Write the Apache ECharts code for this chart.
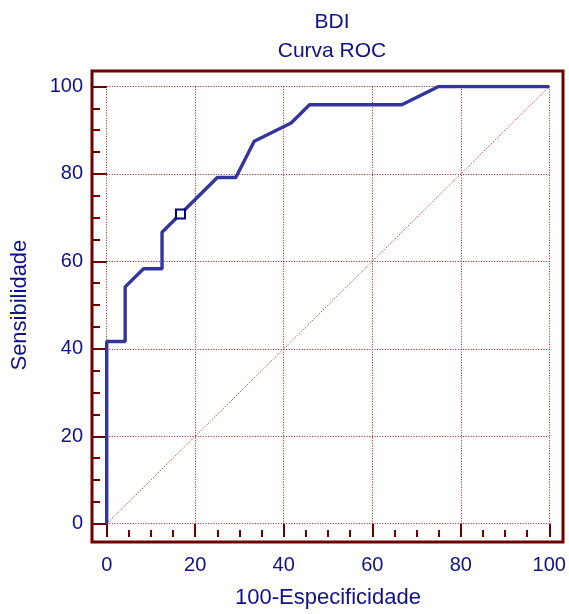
<!DOCTYPE html>
<html>
<head>
<meta charset="utf-8">
<script src="https://cdn.jsdelivr.net/npm/echarts@6/dist/echarts.min.js"></script>
<style>html,body{margin:0;padding:0;background:#fff}#c{width:569px;height:614px}</style>
</head>
<body>
<div id="c"></div>
<script>
// ROC curve data (100-Specificity, Sensitivity)
var fpr = [0, 0, 4.17, 4.17, 8.33, 12.5, 12.5, 16.67, 25, 29.17, 33.33, 41.67, 45.83, 66.67, 75, 100];
var tpr = [0, 41.67, 41.67, 54.17, 58.33, 58.33, 66.67, 70.83, 79.17, 79.17, 87.5, 91.67, 95.83, 95.83, 100, 100];
// Reference diagonal
var diagX = [0, 100];
var diagY = [0, 100];
// Optimal criterion point
var critX = [16.67];
var critY = [70.83];
// Axis ticks
var xTicks = [0, 20, 40, 60, 80, 100];
var yTicks = [0, 20, 40, 60, 80, 100];

var titleText = 'BDI\nCurva ROC';
var xName = '100-Especificidade';
var yName = 'Sensibilidade';

var navy = '#10108a';
var frame = '#700000';
var font = 'Liberation Sans';

function pairs(a, b) { return a.map(function (v, i) { return [v, b[i]]; }); }

var chart = echarts.init(document.getElementById('c'), null, { renderer: 'canvas' });
chart.setOption({
  animation: false,
  backgroundColor: '#fff',
  title: {
    text: titleText,
    left: 327,
    textAlign: 'center',
    top: 3,
    textStyle: { color: navy, fontSize: 21, fontWeight: 'normal', fontFamily: font, lineHeight: 29 }
  },
  grid: [
    { left: 92, right: 6, top: 71, bottom: 72, show: true, borderColor: frame, borderWidth: 3, backgroundColor: 'transparent' },
    { left: 106.7, right: 19.7, top: 86.5, bottom: 85.3 }
  ],
  xAxis: [
    { gridIndex: 0, type: 'value', min: 0, max: 1, show: false },
    {
      gridIndex: 1, type: 'value', min: xTicks[0], max: xTicks[xTicks.length - 1], interval: 20,
      offset: 13.3,
      name: xName, nameLocation: 'middle', nameGap: 50,
      nameTextStyle: { color: navy, fontSize: 22, fontFamily: font },
      axisLine: { show: false, onZero: false },
      axisTick: { show: true, inside: true, length: 13.3, lineStyle: { color: frame, width: 2 } },
      minorTick: { show: true, splitNumber: 4, length: 7, lineStyle: { color: frame, width: 2 } },
      axisLabel: { color: navy, fontSize: 20, fontFamily: font, margin: 18 },
      splitLine: { show: true, lineStyle: { color: '#a81c1c', width: 1, type: [1, 1.6] } }
    }
  ],
  yAxis: [
    { gridIndex: 0, type: 'value', min: 0, max: 1, show: false },
    {
      gridIndex: 1, type: 'value', min: yTicks[0], max: yTicks[yTicks.length - 1], interval: 20,
      offset: 14.7,
      name: yName, nameLocation: 'middle', nameGap: 61, nameRotate: 90,
      nameTextStyle: { color: navy, fontSize: 22, fontFamily: font },
      axisLine: { show: false, onZero: false },
      axisTick: { show: true, inside: true, length: 14.7, lineStyle: { color: frame, width: 2 } },
      minorTick: { show: true, splitNumber: 4, length: 8, lineStyle: { color: frame, width: 2 } },
      axisLabel: { color: navy, fontSize: 20, fontFamily: font, margin: 9, padding: [5, 0, 0, 0] },
      splitLine: { show: true, lineStyle: { color: '#a81c1c', width: 1, type: [1, 1.6] } }
    }
  ],
  series: [
    {
      type: 'line', xAxisIndex: 1, yAxisIndex: 1, data: pairs(diagX, diagY),
      symbol: 'none', silent: true, z: 1,
      lineStyle: { color: '#a81c1c', width: 1, type: [1, 1.6] }
    },
    {
      type: 'line', xAxisIndex: 1, yAxisIndex: 1, data: pairs(fpr, tpr),
      symbol: 'none', z: 3,
      lineStyle: { color: '#34349e', width: 3.4 }
    },
    {
      type: 'scatter', xAxisIndex: 1, yAxisIndex: 1, data: pairs(critX, critY),
      symbol: 'rect', symbolSize: 9, z: 4,
      itemStyle: { color: '#fff', borderColor: '#000080', borderWidth: 2, opacity: 1 }
    }
  ]
});
</script>
</body>
</html>
